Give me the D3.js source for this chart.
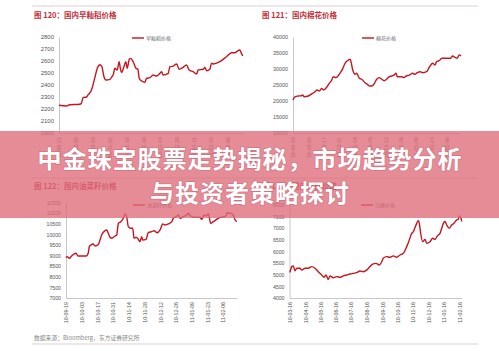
<!DOCTYPE html>
<html>
<head>
<meta charset="utf-8">
<script src="https://cdn.jsdelivr.net/npm/d3@7"></script>
<style>
  html, body { margin: 0; padding: 0; background: #fff; }
  svg { display: block; }
  .tick text { font-family: "Liberation Sans", Arial, sans-serif; fill: #555; }
</style>
</head>
<body>
<svg id="chart" width="499" height="351"></svg>
<script>
// 早籼稻 (days from first label, price)
var riceTicks = ["10-09-21","10-10-05","10-10-19","10-11-02","10-11-16","10-11-30","10-12-14","10-12-28","11-01-11","11-01-25","11-02-08"];
var riceYTicks = [2000,2100,2200,2300,2400,2500,2600,2700,2800];
var riceDays = [0,6,9,17,18.5,20,23,24,27,30,32,34,35.5,37.4,39,42.4,44,45,46.5,48.4,50,51,52,54,55.6,56.7,58.4,59.5,61.7,64,65.6,66.7,68.7,71.4,72.8,75.6,78.3,81,83.9,85.3,86.6,90.8,92.2,95,97.8,99.9,103.2,106,108.2,111.5,114.4,115.7,119.9,121.3,122.7,125.4,126.8,128.2,133.7,139.3,143.4,146.2,148.9,150.3,151.7,152.8];
var ricePrices = [2231,2225,2236,2240,2245,2295,2300,2315,2358,2469,2544,2569,2558,2469,2442,2447,2469,2483,2539,2525,2594,2539,2503,2553,2594,2539,2614,2622,2594,2539,2531,2456,2433,2422,2456,2461,2483,2475,2497,2511,2483,2497,2553,2558,2575,2531,2547,2567,2525,2511,2492,2525,2531,2547,2519,2531,2581,2575,2594,2636,2669,2669,2686,2692,2664,2642];

// 棉花
var cottonTicks = ["10-09-19","10-10-03","10-10-17","10-10-31","10-11-14","10-11-28","10-12-12","10-12-26","11-01-09","11-01-23","11-02-06"];
var cottonYTicks = [10000,15000,20000,25000,30000,35000,40000];
var cottonDays = [0,1.8,4.8,7.9,8.8,10,13.9,17,20,22,24,26,28,30.7,33,35,36.7,39,41,43.7,45,47.4,49.5,52,52.8,54.4,56.5,58,60.4,62.6,65.6,67.7,69.5,71.7,73.8,76.2,78.6,80.8,82.9,85.3,87.7,89.9,92,93.8,95,99,101,102.9,105.9,109,111,113.2,115.7,118.1,121.7,124.1,127.2,129.3,130.8,133.2,135.4,140,143.6,145.4,147.5,149.6,151.4,153];
var cottonPrices = [20300,21300,21550,21650,21900,21350,21550,22200,22900,23450,23100,23950,23450,24300,25500,26350,27600,27300,27800,29150,29900,31800,32600,33050,32300,29700,28350,28650,27100,26800,25700,25200,24700,24700,25300,26800,27300,26800,26350,26800,27600,27800,28100,28650,27600,27600,27300,27800,28100,28650,28350,28850,29150,28850,29150,30550,31800,31250,32300,32600,33350,33350,33350,34050,33650,33350,34400,34050];

// 油菜籽
var rapeTicks = ["10-09-19","10-10-03","10-10-17","10-10-31","10-11-14","10-11-28","10-12-12","10-12-26","11-01-09","11-01-23","11-02-06"];
var rapeYTicks = [7000,7500,8000,8500,9000,9500,10000,10500,11000,11500];
var rapeDays = [0,1,3,5,7,9,10.5,14,18,19.9,20.8,22.3,24.3,25.9,28.8,30.3,31.8,34.8,36.3,37.7,39.3,40.8,43.7,45.2,46.7,48.8,51.1,52.6,54.1,55.6,57.7,59.5,60.7,62.4,64.5,66,67.5,68.4,71.4,73.4,76.4,78.5,81.4,83.9,86.3,88.3,91.3,94.3,95.7,98.1,100.2,101.7,104.6,107.7,109.1,111.2,113.6,119.5,121,123.1,124.9,126.9,129.1,131.4,134.4,137.4,141.8,143.9,146.9,149.2,150.8,152.3];
var rapePrices = [8900,8950,8870,8980,9070,9110,8980,8980,8980,9135,9420,9500,9545,9450,9520,9733,9969,10172,10205,10050,9860,9812,9920,9968,10520,10598,10756,10958,10833,10362,10284,10284,9812,9860,9766,9655,9890,9733,9766,10078,10125,10172,10078,10205,10487,10440,10487,10598,10756,10833,10911,10756,10833,10911,10990,10864,10802,10802,10708,10911,10864,10958,10520,10598,10708,10802,10833,11020,10990,10911,10676,10598];

// 白糖
var sugarTicks = ["10-03-16","10-04-16","10-05-16","10-06-16","10-07-16","10-08-16","10-09-16","10-10-16","10-11-16","10-12-16","11-01-16","11-02-16"];
var sugarYTicks = [4000,4500,5000,5500,6000,6500,7000,7500,8000];
var sugarDays = [0,1,4.4,7.5,10.9,14.3,20.8,24.2,30.7,37.3,44,50.5,57,63.8,68.4,72.3,76.9,80.3,86.8,93.6,100.1,106.6,113.4,119.9,126.5,133.2,139.7,146.3,153,159.6,164.9,171.5,178,182.8,185.9,192.7,199.2,205.7,212.5,219,225.6,232.3,237.5,242.2,245.4,248.2,252.1,255.3,257.3,260,264,268.6,272,278.5,283.8,288.4,293,298.3,301.7,304.9,308.2,311.6,316.7,321.5,326,331.4,334.6,336.6,340,341.3];
var sugarPrices = [5100,5130,5350,5380,5170,5280,5280,5200,5280,5280,5350,5280,5130,4990,4890,4990,4800,4950,4870,4920,4890,4950,4990,5030,5060,5090,5160,5130,5200,5350,5460,5490,5420,5560,5710,5780,5750,5810,5750,5850,5920,6210,6500,6780,6850,7000,7210,7330,7210,6780,6420,6520,6350,6420,6570,6520,6670,6780,7000,7210,7290,7140,7000,7140,7210,7360,7390,7530,7430,7290];

var red = "#c8141e";
var parse = d3.utcParse("%y-%m-%d");
var svg = d3.select("#chart");

function dayAt(start, d) { return new Date(start.getTime() + d * 864e5); }

function panel(o) {
  var g = svg.append("g");
  var start = parse(o.ticks[0]);
  var x = d3.scaleUtc().domain([start, dayAt(start, o.lastDay)]).range(o.xr);
  var y = d3.scaleLinear().domain(d3.extent(o.yTicks)).range(o.yr);

  // title
  g.append("text").attr("x", o.tx).attr("y", o.ty)
    .style("font-family", "'Noto Sans CJK SC', sans-serif").style("font-size", "7.5px")
    .style("font-weight", "bold").style("fill", "#c4303a").text(o.title);

  var ya = g.append("g").attr("transform", "translate(" + o.xr[0] + ",0)")
    .call(d3.axisLeft(y).tickValues(o.yTicks).tickSize(0).tickPadding(5).tickFormat(d3.format("d")));
  ya.select(".domain").attr("stroke", "#c8c8c8");
  ya.selectAll("text").style("font-size", o.fs + "px");

  var xa = g.append("g").attr("transform", "translate(0," + o.yr[0] + ")")
    .call(d3.axisBottom(x).tickValues(o.ticks.map(parse)).tickSize(0).tickFormat(d3.utcFormat("%y-%m-%d")));
  xa.select(".domain").attr("stroke", "#c8c8c8");
  xa.selectAll("text").attr("transform", "rotate(-90)").attr("x", -4).attr("y", 0)
    .attr("dy", "0.35em").style("text-anchor", "end").style("font-size", "5.3px");

  var pts = o.days.map(function(d, i) { return [x(dayAt(start, d)), y(o.vals[i])]; });
  g.append("path").attr("d", d3.line().curve(d3.curveMonotoneX)(pts))
    .attr("fill", "none").attr("stroke", red).attr("stroke-width", 1.4).attr("stroke-linejoin", "round");

  // legend
  g.append("line").attr("x1", o.lx).attr("x2", o.lx + 12).attr("y1", o.ly).attr("y2", o.ly)
    .attr("stroke", red).attr("stroke-width", 1.4);
  g.append("text").attr("x", o.lx + 14).attr("y", o.ly).attr("dy", "0.35em")
    .style("font-family", "'Noto Sans CJK SC', sans-serif").style("font-size", "5px")
    .style("fill", "#666").text(o.legend);
}

// rules
[6, 178, 344].forEach(function(yy) {
  svg.append("line").attr("x1", 32).attr("x2", 478).attr("y1", yy).attr("y2", yy)
    .attr("stroke", "#dccfcf").attr("stroke-width", 1);
});

panel({ title: "图 120：国内早籼稻价格", tx: 34, ty: 18, ticks: riceTicks, yTicks: riceYTicks,
  days: riceDays, vals: ricePrices, lastDay: 153, xr: [59, 243], yr: [133, 37], fs: 6,
  lx: 132, ly: 38, legend: "早籼稻价格" });
panel({ title: "图 121：国内棉花价格", tx: 262, ty: 18, ticks: cottonTicks, yTicks: cottonYTicks,
  days: cottonDays, vals: cottonPrices, lastDay: 153, xr: [293, 461], yr: [133, 37], fs: 5.4,
  lx: 362, ly: 38, legend: "棉花价格" });
panel({ title: "图 122：国内油菜籽价格", tx: 34, ty: 189, ticks: rapeTicks, yTicks: rapeYTicks,
  days: rapeDays, vals: rapePrices, lastDay: 152.5, xr: [66, 237], yr: [298, 202.5], fs: 5.2,
  lx: 133, ly: 205, legend: "油菜籽价格" });
panel({ title: "图 123：国内白糖价格", tx: 262, ty: 189, ticks: sugarTicks, yTicks: sugarYTicks,
  days: sugarDays, vals: sugarPrices, lastDay: 341.3, xr: [289.5, 461.7], yr: [298, 205], fs: 5.2,
  lx: 361, ly: 205, legend: "白糖价格" });

svg.append("text").attr("x", 34).attr("y", 340)
  .style("font-family", "'Noto Sans CJK SC', sans-serif").style("font-size", "5.8px")
  .style("fill", "#8a8a8a").text("数据来源：Bloomberg，东方证券研究所");

// banner overlay
svg.append("rect").attr("x", 0).attr("y", 131).attr("width", 499).attr("height", 87)
  .attr("fill", "rgb(222,108,122)").attr("fill-opacity", 0.78);
var bannerLines = ["中金珠宝股票走势揭秘，市场趋势分析", "与投资者策略探讨"];
svg.selectAll(".banner").data(bannerLines).enter().append("text")
  .attr("class", "banner")
  .attr("x", 250).attr("y", function(d, i) { return 159 + i * 34; })
  .attr("dy", "0.36em").attr("text-anchor", "middle")
  .style("font-family", "'Noto Sans CJK SC', sans-serif").style("font-size", "24px")
  .style("font-weight", "bold").style("letter-spacing", "1px").style("fill", "#fff")
  .style("paint-order", "stroke").style("stroke", "rgba(150,40,55,0.25)").style("stroke-width", "1.5px")
  .text(function(d) { return d; });
</script>
</body>
</html>
